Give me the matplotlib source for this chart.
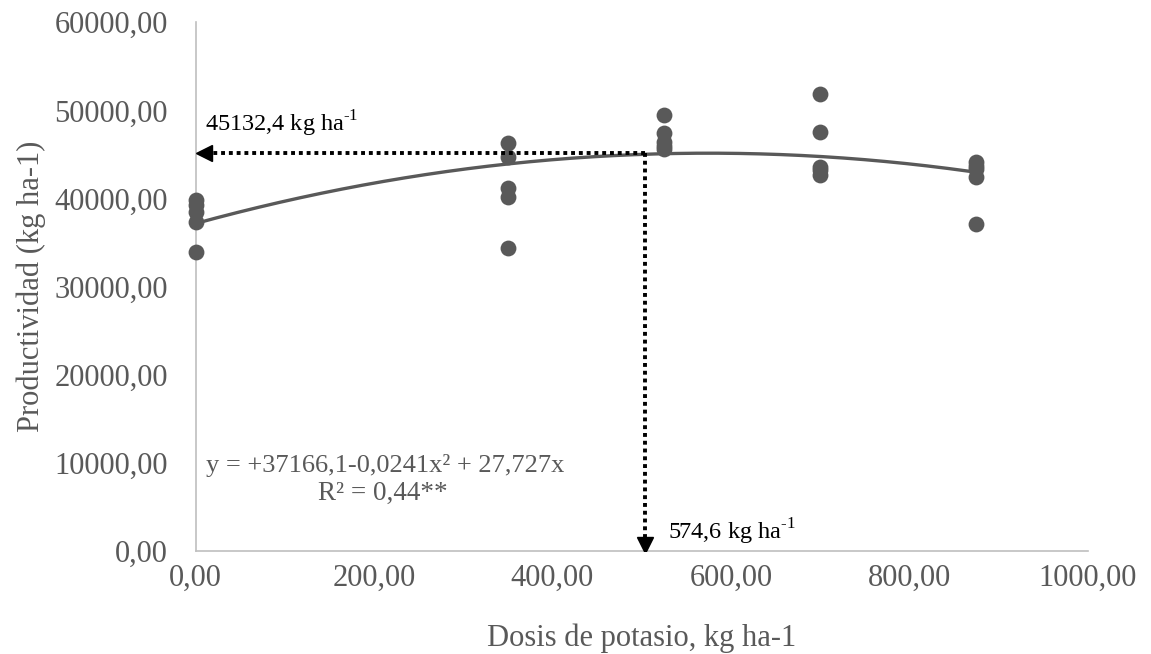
import numpy as np
import matplotlib.pyplot as plt

plt.rcParams['font.family'] = ['Liberation Serif', 'DejaVu Serif']
plt.rcParams['mathtext.fontset'] = 'custom'
plt.rcParams['mathtext.rm'] = 'Liberation Serif'

# observed data (kg K / ha, yield kg/ha)
dosis = [0, 0, 0, 0, 0,
         350, 350, 350, 350, 350,
         525, 525, 525, 525, 525,
         700, 700, 700, 700, 700,
         875, 875, 875, 875, 875]
productividad = [39800, 39250, 38500, 37350, 33950,
                 46250, 44700, 41150, 40200, 34350,
                 49450, 47400, 46400, 45900, 45650,
                 51850, 47550, 43600, 43200, 42650,
                 44150, 43700, 43400, 42400, 37100]

# fitted quadratic
coef_a = 37166.1
coef_b = 27.727
coef_c = -0.0241
x_max = 875

# optimum marker (as drawn on the original)
opt_x = 504
opt_y = 45132.4

gray = '#595959'

fig = plt.figure(figsize=(11.51, 6.54), dpi=100)
ax = fig.add_axes([0.170, 0.1575, 0.775, 0.8085])

xs = np.linspace(0, x_max, 300)
ax.plot(xs, coef_a + coef_b * xs + coef_c * xs ** 2, color=gray, lw=2.4, zorder=2)
ax.scatter(dosis, productividad, s=130, color=gray, zorder=3, linewidths=0, clip_on=False)

# dotted guide lines with arrowheads
ax.plot([opt_x, 8], [opt_y, opt_y], color='black', lw=2.8, ls=(0, (1, 1)), zorder=4)
ax.plot([opt_x, opt_x], [opt_y, 800], color='black', lw=2.8, ls=(0, (1, 1)), zorder=4)
ax.plot([9], [opt_y], marker='<', color='black', ms=11, zorder=5)
ax.plot([opt_x], [650], marker='v', color='black', ms=11, zorder=5)

ax.text(10, 48500, '45132,4 kg ha$^{\\text{-1}}$', fontsize=17.5, color='black',
        va='center', ha='left')
ax.text(529, 2200, '574,6 kg ha$^{\\text{-1}}$', fontsize=17.5, color='black',
        va='center', ha='left')
ax.text(213, 9650, 'y = +37166,1-0,0241x² + 27,727x', fontsize=19, color=gray,
        ha='center', va='center')
ax.text(210, 6550, 'R² = 0,44**', fontsize=19.5, color=gray, ha='center', va='center')

ax.set_xlim(0, 1000)
ax.set_ylim(0, 60000)
ax.set_xticks(np.arange(0, 1001, 200))
ax.set_yticks(np.arange(0, 60001, 10000))
ax.set_xticklabels([f'{v:.2f}'.replace('.', ',') for v in np.arange(0, 1001, 200)])
ax.set_yticklabels([f'{v:.2f}'.replace('.', ',') for v in np.arange(0, 60001, 10000)])
ax.tick_params(length=0, labelsize=22, labelcolor=gray)
ax.tick_params(axis='y', pad=20)
ax.tick_params(axis='x', pad=9)

for s in ['top', 'right']:
    ax.spines[s].set_visible(False)
for s in ['left', 'bottom']:
    ax.spines[s].set_color('#bfbfbf')
    ax.spines[s].set_linewidth(1.2)

ax.set_xlabel('Dosis de potasio, kg ha-1', fontsize=22, color=gray, labelpad=22)
ax.set_ylabel('Productividad (kg ha-1)', fontsize=22, color=gray, labelpad=6)

fig.savefig('out.png', dpi=100)
